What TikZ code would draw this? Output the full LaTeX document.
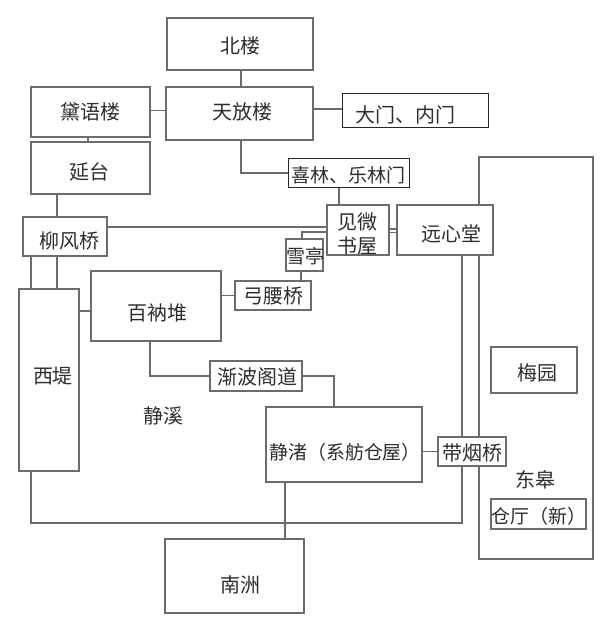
\documentclass[tikz,border=0pt]{standalone}
\usepackage{fontspec}
\setmainfont{Noto Sans CJK SC}
\begin{document}
\begin{tikzpicture}[x=1pt,y=-1pt,
  box/.style={draw=linegray, line width=1.2pt, fill=white, inner sep=0pt, rectangle},
  dbox/.style={draw=black!85, line width=0.8pt, fill=white, inner sep=0pt, rectangle},
  conn/.style={draw=linegray, line width=1.2pt},
  lbl/.style={inner sep=0pt, text=black!82, font=\fontsize{20}{24}\selectfont},
  slbl/.style={lbl, font=\fontsize{19}{22}\selectfont},
]
\definecolor{linegray}{RGB}{108,108,108}
\fill[white] (0,0) rectangle (614,633);
\useasboundingbox (0,0) rectangle (614,633);

% big east box first
\node[box, minimum width=114pt, minimum height=402pt] (donggao) at (536,358) {};

% boxes (positions only, drawn again on top of connectors)
\path
  node[box, minimum width=146pt, minimum height=52pt] (beilou) at (240,44) {}
  node[box, minimum width=147pt, minimum height=53pt] (tianfang) at (239.5,113.5) {}
  node[box, minimum width=119pt, minimum height=50pt] (daiyu) at (90.5,112) {}
  node[box, minimum width=119pt, minimum height=52pt] (yantai) at (90.5,168) {}
  node[dbox, minimum width=146pt, minimum height=34pt] (damen) at (415,110) {}
  node[dbox, minimum width=121pt, minimum height=29pt] (xilin) at (348.5,172.5) {}
  node[box, minimum width=84pt, minimum height=39pt] (liufeng) at (65,236.5) {}
  node[box, minimum width=60pt, minimum height=182pt] (xiti) at (49,380) {}
  node[box, minimum width=130pt, minimum height=70pt] (baina) at (156,306) {}
  node[box, minimum width=76pt, minimum height=29pt] (gongyao) at (273,295.5) {}
  node[box, minimum width=37pt, minimum height=32pt] (xueting) at (304.5,255) {}
  node[box, minimum width=62pt, minimum height=50pt] (jianwei) at (358,230) {}
  node[box, minimum width=96pt, minimum height=50pt] (yuanxin) at (445,230) {}
  node[box, minimum width=86pt, minimum height=46pt] (meiyuan) at (534,370) {}
  node[box, minimum width=95pt, minimum height=30pt] (cangting) at (538.5,514) {}
  node[box, minimum width=68pt, minimum height=29pt] (daiyan) at (472,451.5) {}
  node[box, minimum width=156pt, minimum height=75pt] (jingzhu) at (344,444.5) {}
  node[box, minimum width=139pt, minimum height=74pt] (nanzhou) at (234.5,576) {}
  node[box, minimum width=92pt, minimum height=30pt] (jianbo) at (256,376) {};

% helper coordinates
\coordinate (tfL) at ([yshift=3pt]tianfang.west);
\coordinate (tfR) at ([yshift=4.5pt]tianfang.east);
\coordinate (tfB) at ([xshift=1.5pt]tianfang.south);
\coordinate (xlB) at ([xshift=-9.5pt]xilin.south);
\coordinate (ytB) at ([xshift=-33.5pt]yantai.south);
\coordinate (dyB) at ([xshift=-2.5pt]daiyu.south);
\coordinate (lfR) at ([yshift=9.5pt]liufeng.east);
\coordinate (lfB1) at ([xshift=-34pt]liufeng.south);
\coordinate (lfB2) at ([xshift=-8pt]liufeng.south);
\coordinate (xtT) at ([xshift=-2.5pt]xueting.north);
\coordinate (xtBm) at ([xshift=-3.5pt]xueting.south);
\coordinate (jwR1) at ([yshift=1pt]jianwei.east);
\coordinate (jwR2) at ([yshift=-2.5pt]jianwei.east);
\coordinate (bnL) at ([yshift=-5pt]baina.west);
\coordinate (bnB) at ([xshift=-6pt]baina.south);
\coordinate (jzT) at ([xshift=-10pt]jingzhu.north);
\coordinate (jzB) at ([xshift=-59pt]jingzhu.south);
\coordinate (xdB) at ([xshift=-18pt]xiti.south);
\coordinate (yxB) at ([xshift=17pt]yuanxin.south);
\coordinate (loopY) at (0,523);
\coordinate (tfY) at (0,173);
\coordinate (xtY) at (0,232);
\coordinate (jbY) at (0,376);

% connectors
\draw[conn] (beilou.south -| tfB) -- (tfB |- tianfang.north);
\draw[conn] (tfL) -- (tfL -| daiyu.east);
\draw[conn] (tfR) -- (tfR -| damen.west);
\draw[conn] (dyB) -- (dyB |- yantai.north);
\draw[conn] (tfB) -- (tfB |- tfY) -- (xilin.west |- tfY);
\draw[conn] (xlB) -- (xlB |- jianwei.north);
\draw[conn] (ytB) -- (ytB |- liufeng.north);
\draw[conn] (lfR) -- (lfR -| jianwei.west);
\draw[conn] (xtT) -- (xtT |- xtY) -- (jianwei.west |- xtY);
\draw[conn] (jwR1) -- (jwR1 -| yuanxin.west);
\draw[conn] (jwR2) -- (jwR2 -| yuanxin.west);
\draw[conn] (xtBm) -- (xtBm |- gongyao.north);
\draw[conn] (gongyao.west) -- (gongyao.west -| baina.east);
\draw[conn] (lfB1) -- (lfB1 |- xiti.north);
\draw[conn] (lfB2) -- (lfB2 |- xiti.north);
\draw[conn] (bnL) -- (bnL -| xiti.east);
\draw[conn] (bnB) -- (bnB |- jbY) -- (jianbo.west |- jbY);
\draw[conn] (jianbo.east |- jbY) -- (jzT |- jbY) -- (jzT);
\draw[conn] (daiyan.west) -- (daiyan.west -| jingzhu.east);
\draw[conn] (jzB) -- (jzB |- nanzhou.north);
\draw[conn] (xdB) -- (xdB |- loopY) -- (yxB |- loopY) -- (yxB);

% redraw boxes on top of connectors
\path
  node[box, minimum width=146pt, minimum height=52pt] at (beilou) {}
  node[box, minimum width=147pt, minimum height=53pt] at (tianfang) {}
  node[box, minimum width=119pt, minimum height=50pt] at (daiyu) {}
  node[box, minimum width=119pt, minimum height=52pt] at (yantai) {}
  node[dbox, minimum width=146pt, minimum height=34pt] at (damen) {}
  node[dbox, minimum width=121pt, minimum height=29pt] at (xilin) {}
  node[box, minimum width=84pt, minimum height=39pt] at (liufeng) {}
  node[box, minimum width=60pt, minimum height=182pt] at (xiti) {}
  node[box, minimum width=130pt, minimum height=70pt] at (baina) {}
  node[box, minimum width=76pt, minimum height=29pt] at (gongyao) {}
  node[box, minimum width=37pt, minimum height=32pt] at (xueting) {}
  node[box, minimum width=62pt, minimum height=50pt] at (jianwei) {}
  node[box, minimum width=96pt, minimum height=50pt] at (yuanxin) {}
  node[box, minimum width=86pt, minimum height=46pt] at (meiyuan) {}
  node[box, minimum width=95pt, minimum height=30pt] at (cangting) {}
  node[box, minimum width=68pt, minimum height=29pt] at (daiyan) {}
  node[box, minimum width=156pt, minimum height=75pt] at (jingzhu) {}
  node[box, minimum width=139pt, minimum height=74pt] at (nanzhou) {}
  node[box, minimum width=92pt, minimum height=30pt] at (jianbo) {};

% labels
\node[lbl] (t-beilou) at (240,46) {北楼};
\node[lbl] (t-tianfang) at (242,112) {天放楼};
\node[lbl] (t-daiyu) at (90,112) {黛语楼};
\node[lbl] (t-yantai) at (90,172) {延台};
\node[lbl] (t-damen) at (405,115) {大门、内门};
\node[slbl] (t-xilin) at (348.5,175) {喜林、乐林门};
\node[lbl] (t-liufeng) at (69,241) {柳风桥};
\node[lbl] (t-xiti) at (53,376) {西堤};
\node[lbl] (t-baina) at (157,313) {百衲堆};
\node[lbl] (t-gongyao) at (273,296) {弓腰桥};
\node[slbl] (t-xueting) at (305,256) {雪亭};
\node[lbl, align=center] (t-jianwei) at (357,234) {见微\\书屋};
\node[lbl] (t-yuanxin) at (451,234) {远心堂};
\node[lbl] (t-meiyuan) at (537,373) {梅园};
\node[lbl] (t-donggao) at (535,480) {东皋};
\node[slbl] (t-cangting) at (538.5,516) {仓厅（新）};
\node[lbl] (t-daiyan) at (472,453) {带烟桥};
\node[slbl] (t-jingzhu) at (345,452) {静渚（系舫仓屋）};
\node[lbl] (t-nanzhou) at (240,585) {南洲};
\node[lbl] (t-jianbo) at (257,377) {渐波阁道};
\node[lbl] (t-jingxi) at (163,416) {静溪};
\end{tikzpicture}
\end{document}
